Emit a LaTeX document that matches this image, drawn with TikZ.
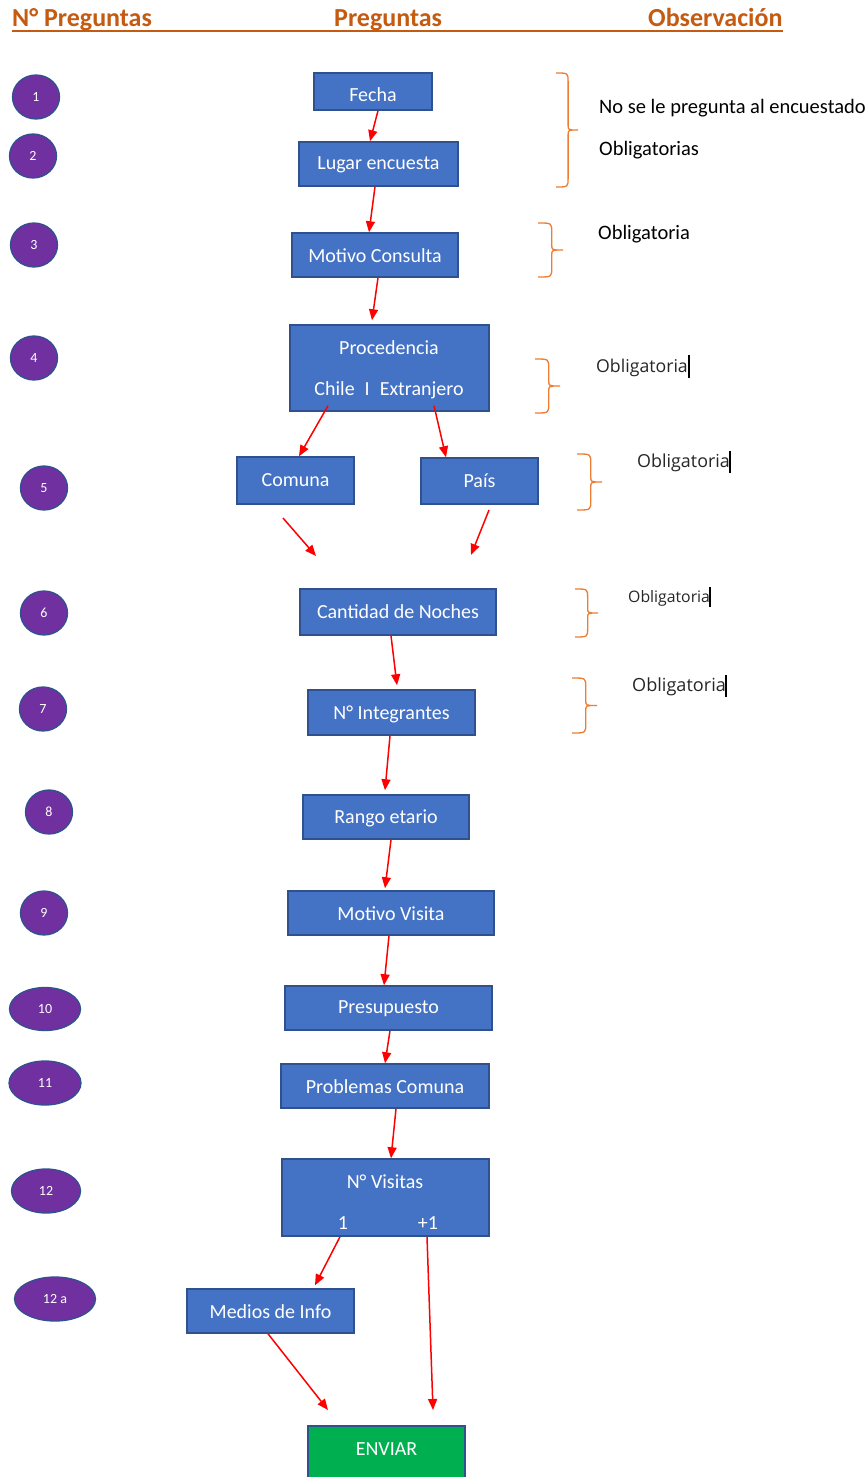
\documentclass[tikz,border=0pt]{standalone}
\usepackage{fontspec}
\setmainfont{Carlito}
\newfontfamily\seg{Open Sans}
\usetikzlibrary{arrows.meta,shapes.geometric}
\definecolor{boxblue}{HTML}{4472C4}
\definecolor{boxedge}{HTML}{2F528F}
\definecolor{purp}{HTML}{7030A0}
\definecolor{okgreen}{HTML}{00B050}
\definecolor{hdr}{HTML}{C55A11}
\definecolor{brc}{HTML}{ED7D31}
\tikzset{
  qbox/.style={draw=boxedge, line width=1.5pt, fill=boxblue, rectangle, inner sep=0pt},
  okbox/.style={draw=boxedge, line width=1.5pt, fill=okgreen, rectangle, inner sep=0pt},
  num/.style={ellipse, draw=boxedge, line width=1.3pt, fill=purp, inner sep=0pt, text=white, font=\fontsize{14}{16}\selectfont},
  wtxt/.style={text=white, font=\fontsize{20}{24}\selectfont, inner sep=0pt},
  btxt/.style={text=black, font=\fontsize{20.5}{24}\selectfont, inner sep=0pt, anchor=west},
  stxt/.style={text=black!85, inner sep=0pt, anchor=west},
  htxt/.style={text=hdr, font=\fontsize{26}{30}\selectfont\bfseries, inner sep=0pt, anchor=base west},
  arr/.style={draw=red, line width=1.5pt, -{Triangle[length=11pt,width=9pt]}},
  bracestyle/.style={draw=brc, line width=1.3pt},
  cursor/.style={draw=black, line width=1.2pt}
}
\newcommand{\obrace}[4]{%
  \draw[bracestyle] (#1,#2) .. controls ({#1+0.55*#4},#2) and ({#1+0.55*#4},#2) .. ({#1+0.55*#4},{#2+9})
    -- ({#1+0.55*#4},{(#2+#3)/2-5}) .. controls ({#1+0.55*#4},{(#2+#3)/2}) and ({#1+0.55*#4},{(#2+#3)/2}) .. ({#1+#4},{(#2+#3)/2})
    .. controls ({#1+0.55*#4},{(#2+#3)/2}) and ({#1+0.55*#4},{(#2+#3)/2}) .. ({#1+0.55*#4},{(#2+#3)/2+5})
    -- ({#1+0.55*#4},{#3-9}) .. controls ({#1+0.55*#4},#3) and ({#1+0.55*#4},#3) .. (#1,#3);}
\begin{document}
\begin{tikzpicture}[x=1pt,y=-1pt]
\useasboundingbox (0,0) rectangle (867,1477);
\clip (0,0) rectangle (867,1477);
\fill[white] (0,0) rectangle (867,1477);

% header
\node[htxt] (h1) at (12,27) {N° Preguntas};
\node[htxt] (h2) at (334,27) {Preguntas};
\node[htxt] (h3) at (648,27) {Observación};
\draw[draw=hdr, line width=2pt] (12,31) -- (783,31);

% number ellipses
\node[num, minimum width=47pt, minimum height=44pt] (n1) at (36,97) {1};
\node[num, minimum width=47pt, minimum height=44pt] (n2) at (33,156) {2};
\node[num, minimum width=47pt, minimum height=44pt] (n3) at (34,245) {3};
\node[num, minimum width=47pt, minimum height=44pt] (n4) at (34,358) {4};
\node[num, minimum width=47pt, minimum height=44pt] (n5) at (44,488) {5};
\node[num, minimum width=47pt, minimum height=44pt] (n6) at (44,613) {6};
\node[num, minimum width=47pt, minimum height=44pt] (n7) at (43,709) {7};
\node[num, minimum width=47pt, minimum height=44pt] (n8) at (49,812) {8};
\node[num, minimum width=47pt, minimum height=44pt] (n9) at (44,913) {9};
\node[num, minimum width=71pt, minimum height=43pt] (n10) at (45,1009) {10};
\node[num, minimum width=72pt, minimum height=44pt] (n11) at (45,1083) {11};
\node[num, minimum width=69pt, minimum height=44pt] (n12) at (46,1191) {12};
\node[num, minimum width=81pt, minimum height=44pt] (n12a) at (55,1299) {12 a};

% question boxes
\node[qbox, minimum width=118pt, minimum height=37pt] (fecha) at (373,91.5) {};
\node[wtxt] at (373,95) {Fecha};
\node[qbox, minimum width=159pt, minimum height=44pt] (lugar) at (378.5,164) {};
\node[wtxt] at (378.5,165) {Lugar encuesta};
\node[qbox, minimum width=166pt, minimum height=44pt] (motivo) at (375,255) {};
\node[wtxt] at (375,256) {Motivo Consulta};
\node[qbox, minimum width=199pt, minimum height=86pt] (proc) at (389.5,368) {};
\node[wtxt] at (389,348) {Procedencia};
\node[wtxt] at (389,390) {Chile\enspace I\enspace Extranjero};
\node[qbox, minimum width=117pt, minimum height=47pt] (comuna) at (295.5,480.5) {};
\node[wtxt] at (295.5,480) {Comuna};
\node[qbox, minimum width=117pt, minimum height=46pt] (pais) at (479.5,481) {};
\node[wtxt] at (479.5,481) {País};
\node[qbox, minimum width=196pt, minimum height=46pt] (noches) at (398,612) {};
\node[wtxt] at (398,612) {Cantidad de Noches};
\node[qbox, minimum width=167pt, minimum height=45pt] (integ) at (391.5,712.5) {};
\node[wtxt] at (391.5,714) {N° Integrantes};
\node[qbox, minimum width=166pt, minimum height=44pt] (rango) at (386,817) {};
\node[wtxt] at (386,818) {Rango etario};
\node[qbox, minimum width=206pt, minimum height=44pt] (motvis) at (391,913) {};
\node[wtxt] at (391,914) {Motivo Visita};
\node[qbox, minimum width=207pt, minimum height=44pt] (presup) at (388.5,1008) {};
\node[wtxt] at (388.5,1009) {Presupuesto};
\node[qbox, minimum width=208pt, minimum height=44pt] (probl) at (385,1086) {};
\node[wtxt] at (385,1087) {Problemas Comuna};
\node[qbox, minimum width=207pt, minimum height=77pt] (visitas) at (385.5,1197.5) {};
\node[wtxt] at (385,1182) {N° Visitas};
\node[wtxt] at (343,1223) {1};
\node[wtxt] at (428,1223) {+1};
\node[qbox, minimum width=167pt, minimum height=44pt] (medios) at (270.5,1311) {};
\node[wtxt] at (270.5,1312) {Medios de Info};
\node[okbox, minimum width=157pt, minimum height=70pt, anchor=north] (enviar) at (386.5,1425) {};
\node[wtxt] at (386.5,1449) {ENVIAR};

% free arrow ends
\coordinate (c1) at (283,518);
\coordinate (c2) at (316,556);
\coordinate (c3) at (489,510);
\coordinate (c4) at (471,555);
\coordinate (e1) at (328,1410);
\coordinate (e2) at (433,1410);

% arrows
\draw[arr] ([xshift=5pt]fecha.south) -- ([xshift=-8.5pt]lugar.north);
\draw[arr] ([xshift=-3.5pt]lugar.south) -- ([xshift=-6pt]motivo.north);
\draw[arr] ([xshift=3pt]motivo.south) -- ([xshift=-17.5pt,yshift=4pt]proc.north);
\draw[arr] ([xshift=-61.5pt,yshift=6pt]proc.south) -- ([xshift=3.5pt]comuna.north);
\draw[arr] ([xshift=44.5pt,yshift=6pt]proc.south) -- ([xshift=-33.5pt]pais.north);
\draw[arr] (c1) -- (c2);
\draw[arr] (c3) -- (c4);
\draw[arr] ([xshift=-7pt]noches.south) -- ([xshift=5.5pt,yshift=4pt]integ.north);
\draw[arr] ([xshift=-1.5pt]integ.south) -- ([xshift=-1pt,yshift=4pt]rango.north);
\draw[arr] ([xshift=5pt]rango.south) -- ([xshift=-6pt,yshift=2pt]motvis.north);
\draw[arr] ([xshift=-2pt]motvis.south) -- ([xshift=-4.5pt]presup.north);
\draw[arr] ([xshift=1.5pt]presup.south) -- ([xshift=0pt]probl.north);
\draw[arr] ([xshift=11pt]probl.south) -- ([xshift=5.5pt]visitas.north);
\draw[arr] ([xshift=-45.5pt]visitas.south) -- ([xshift=44.5pt,yshift=3pt]medios.north);
\draw[arr] ([xshift=41.5pt]visitas.south) -- (e2);
\draw[arr] ([xshift=-2.5pt]medios.south) -- (e1);

% braces
\obrace{556}{73}{187}{22}
\obrace{538}{223}{277}{25}
\obrace{535}{359}{413}{25}
\obrace{577}{454}{510}{25}
\obrace{575}{589}{637}{23}
\obrace{572}{678}{733}{25}

% observations
\node[btxt] (o1) at (599,108) {No se le pregunta al encuestado};
\node[btxt] (o2) at (599,150) {Obligatorias};
\node[btxt] (o3) at (598,234) {Obligatoria};
\node[stxt, font=\seg\fontsize{17.7}{20}\selectfont] (o4) at (596,368) {Obligatoria};
\node[stxt, font=\seg\fontsize{17.9}{20}\selectfont] (o5) at (637,463) {Obligatoria};
\node[stxt, font=\seg\fontsize{15.8}{18}\selectfont] (o6) at (628,598) {Obligatoria};
\node[stxt, font=\seg\fontsize{18.1}{20}\selectfont] (o7) at (632,687) {Obligatoria};
\draw[cursor] (689,355) -- (689,378);
\draw[cursor] (730,451) -- (730,473);
\draw[cursor] (710,587) -- (710,607);
\draw[cursor] (726,675) -- (726,697);
\end{tikzpicture}
\end{document}
